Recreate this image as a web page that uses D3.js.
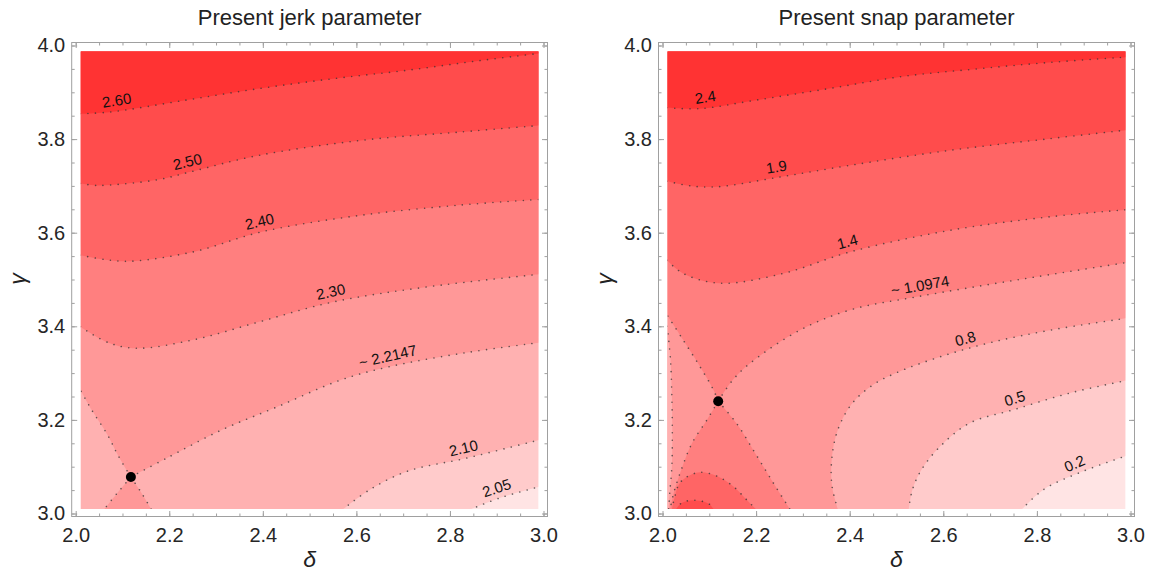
<!DOCTYPE html>
<html>
<head>
<meta charset="utf-8">
<script src="https://cdn.jsdelivr.net/npm/d3@7"></script>
<style>
  body { margin: 0; background: #fff; }
  svg { display: block; }
  text { font-family: "Liberation Sans", Arial, sans-serif; }
</style>
</head>
<body>
<svg id="chart" width="1149" height="580"></svg>
<script>
// axis ticks
const xTicks = [2.0, 2.2, 2.4, 2.6, 2.8, 3.0];
const yTicks = [3.0, 3.2, 3.4, 3.6, 3.8, 4.0];

// sampled region of the contour plot
const deltaFill = [2.011, 2.989];
const gammaFill = [3.0095, 3.987];

// ---- jerk parameter contours, [delta, gamma]
const jerk260 = [[2.01, 3.854], [2.075, 3.858], [2.234, 3.883], [2.392, 3.908], [2.55, 3.929], [2.708, 3.947], [2.866, 3.968], [2.99, 3.983]];
const jerk250 = [[2.01, 3.705], [2.045, 3.701], [2.1, 3.704], [2.18, 3.714], [2.245, 3.73], [2.39, 3.765], [2.608, 3.797], [2.82, 3.815], [2.99, 3.829]];
const jerk240 = [[2.01, 3.552], [2.06, 3.543], [2.116, 3.539], [2.251, 3.559], [2.398, 3.602], [2.608, 3.637], [2.822, 3.659], [2.99, 3.671]];
const jerk230 = [[2.01, 3.399], [2.07, 3.365], [2.13, 3.353], [2.251, 3.371], [2.394, 3.41], [2.55, 3.452], [2.75, 3.484], [2.99, 3.511]];
const jerkSaddle = [2.118, 3.078];
const jerkUL = [jerkSaddle, [2.09, 3.125], [2.068, 3.168], [2.035, 3.22], [2.01, 3.264]];
const jerkUR = [jerkSaddle, [2.194, 3.118], [2.313, 3.179], [2.431, 3.228], [2.566, 3.285], [2.672, 3.314], [2.83, 3.343], [2.99, 3.365]];
const jerkLL = [jerkSaddle, [2.09, 3.045], [2.06, 3.008]];
const jerkLR = [jerkSaddle, [2.14, 3.045], [2.162, 3.008]];
const jerk210 = [[2.57, 3.008], [2.629, 3.051], [2.708, 3.09], [2.834, 3.118], [2.99, 3.157]];
const jerk205 = [[2.842, 3.008], [2.906, 3.033], [2.99, 3.057]];
const jerkLabelText = ["2.60", "2.50", "2.40", "2.30", "~ 2.2147", "2.10", "2.05"];
const jerkLabelAt = [2.091, 2.244, 2.398, 2.55, 2.672, 2.834, 2.907];

// ---- snap parameter contours
const snap24 = [[2.01, 3.867], [2.079, 3.865], [2.198, 3.883], [2.356, 3.908], [2.514, 3.934], [2.672, 3.95], [2.83, 3.964], [2.99, 3.975]];
const snap19 = [[2.01, 3.71], [2.06, 3.7], [2.116, 3.698], [2.251, 3.719], [2.401, 3.744], [2.614, 3.776], [2.828, 3.801], [2.99, 3.819]];
const snap14 = [[2.01, 3.541], [2.044, 3.513], [2.123, 3.492], [2.258, 3.513], [2.401, 3.559], [2.614, 3.605], [2.828, 3.634], [2.99, 3.649]];
const snapSaddle = [2.119, 3.24];
const snapUL = [snapSaddle, [2.109, 3.264], [2.08, 3.314], [2.044, 3.371], [2.01, 3.424]];
const snapUR = [snapSaddle, [2.15, 3.285], [2.187, 3.321], [2.294, 3.392], [2.401, 3.435], [2.543, 3.463], [2.757, 3.499], [2.99, 3.536]];
const snapLL = [snapSaddle, [2.095, 3.2], [2.063, 3.15], [2.04, 3.093], [2.024, 3.044], [2.016, 3.008]];
const snapLR = [snapSaddle, [2.158, 3.193], [2.198, 3.129], [2.237, 3.065], [2.273, 3.008]];
const snapEdge08 = [[2.01, 3.40], [2.017, 3.33], [2.02, 3.25], [2.021, 3.17], [2.02, 3.10], [2.016, 3.05], [2.013, 3.008]];
const snapArc14 = [[2.02, 3.008], [2.026, 3.035], [2.035, 3.062], [2.05, 3.077], [2.08, 3.088], [2.116, 3.08], [2.151, 3.058], [2.18, 3.029], [2.201, 3.008]];
const snapArc19 = [[2.028, 3.008], [2.04, 3.022], [2.059, 3.028], [2.08, 3.027], [2.1, 3.02], [2.11, 3.008]];
const snap08 = [[2.375, 3.008], [2.362, 3.06], [2.362, 3.12], [2.375, 3.18], [2.405, 3.235], [2.45, 3.275], [2.51, 3.305], [2.6, 3.337], [2.7, 3.365], [2.83, 3.392], [2.99, 3.417]];
const snap05 = [[2.526, 3.008], [2.534, 3.051], [2.553, 3.093], [2.593, 3.143], [2.656, 3.193], [2.751, 3.222], [2.869, 3.257], [2.99, 3.284]];
const snap02 = [[2.767, 3.008], [2.814, 3.051], [2.893, 3.088], [2.99, 3.123]];
const snapLabelText = ["2.4", "1.9", "1.4", "~ 1.0974", "0.8", "0.5", "0.2"];
const snapLabelAt = [2.095, 2.247, 2.401, 2.554, 2.653, 2.759, 2.889];

// shading, darkest (highest level) first
const shades = ["#ff3333", "#ff4c4c", "#ff6565", "#ff7f7f", "#ff9898", "#ffb1b1", "#ffcbcb", "#ffe4e4"];

const TR = [3, 4], TL = [2, 4], BL = [2, 3];
const rev = (a) => a.slice().reverse();

const svg = d3.select('#chart');
const defs = svg.append('defs');

const interp = (pts, d) => {
  for (let i = 1; i < pts.length; i++) {
    const a = pts[i - 1], b = pts[i];
    if (d >= a[0] && d <= b[0]) {
      const t = (d - a[0]) / (b[0] - a[0]);
      return [a[0] + t * (b[0] - a[0]), a[1] + t * (b[1] - a[1])];
    }
  }
  return pts[pts.length - 1];
};

const makePanel = (opt) => {
  const x = d3.scaleLinear().domain([2, 3]).range(opt.xRange);
  const y = d3.scaleLinear().domain([3, 4]).range([513.5, 45.5]);

  const g = svg.append('g');
  const clipId = 'clip-' + opt.id;
  defs.append('clipPath').attr('id', clipId)
    .append('rect')
    .attr('x', x(deltaFill[0]))
    .attr('y', y(gammaFill[1]))
    .attr('width', x(deltaFill[1]) - x(deltaFill[0]))
    .attr('height', y(gammaFill[0]) - y(gammaFill[1]));

  const curve = d3.line()
    .x((d) => x(d[0]))
    .y((d) => y(d[1]))
    .curve(d3.curveCatmullRom.alpha(0.5));

  const shape = (parts) => parts.map((p, i) => {
    if (Array.isArray(p[0])) {
      const s = curve(p);
      return i === 0 ? s : 'L' + s.slice(1);
    }
    return (i === 0 ? 'M' : 'L') + x(p[0]) + ',' + y(p[1]);
  }).join('') + 'Z';

  const plot = g.append('g').attr('clip-path', `url(#${clipId})`);

  plot.append('rect')
    .attr('x', x(2)).attr('y', y(4))
    .attr('width', x(3) - x(2)).attr('height', y(3) - y(4))
    .attr('fill', shades[7]);

  opt.bands.forEach(([shade, polys]) => {
    polys.forEach((parts) => {
      plot.append('path').attr('d', shape(parts)).attr('fill', shades[shade]);
    });
  });

  plot.selectAll('path.contour')
    .data(opt.lines)
    .enter()
    .append('path')
    .attr('class', 'contour')
    .attr('d', (d) => curve(d))
    .attr('fill', 'none')
    .attr('stroke', '#333')
    .attr('stroke-opacity', 0.75)
    .attr('stroke-width', 1.6)
    .attr('stroke-linecap', 'round')
    .attr('stroke-dasharray', '0.01 7.6');

  // contour labels, set just above their line and turned with it
  opt.labels.forEach(([text, pts, at]) => {
    const p = interp(pts, at);
    const p0 = interp(pts, at - 0.015), p1 = interp(pts, at + 0.015);
    const ang = Math.atan2(y(p1[1]) - y(p0[1]), x(p1[0]) - x(p0[0]));
    const off = 10.5;
    const cx = x(p[0]) + off * Math.sin(ang);
    const cy = y(p[1]) - off * Math.cos(ang);
    g.append('text')
      .attr('transform', `translate(${cx},${cy}) rotate(${ang * 180 / Math.PI})`)
      .attr('text-anchor', 'middle')
      .attr('dy', '0.35em')
      .attr('font-size', 15)
      .attr('fill', '#111')
      .text(text);
  });

  g.append('circle')
    .attr('cx', x(opt.saddle[0]))
    .attr('cy', y(opt.saddle[1]))
    .attr('r', 5)
    .attr('fill', '#000');

  // frame with inward ticks on all sides
  const fx0 = x(2) - 4, fx1 = x(3) + 4, fy0 = y(4) - 3, fy1 = y(3) + 3;
  const tickColor = '#a0a0a0';

  const sides = [
    [d3.axisBottom, x, `translate(0,${fy1})`, true],
    [d3.axisTop, x, `translate(0,${fy0})`, false],
    [d3.axisLeft, y, `translate(${fx0},0)`, true],
    [d3.axisRight, y, `translate(${fx1},0)`, false],
  ];
  sides.forEach(([maker, scale, tr, labelled]) => {
    const isX = scale === x;
    const minor = g.append('g').attr('transform', tr)
      .call(maker(scale).ticks(20).tickSize(-3).tickFormat(''));
    minor.select('.domain').remove();
    minor.selectAll('line').attr('stroke', tickColor);

    const major = g.append('g').attr('transform', tr)
      .call(maker(scale)
        .tickValues(isX ? xTicks : yTicks)
        .tickSize(-5.5)
        .tickPadding(isX ? 11 : 6.5)
        .tickFormat(labelled ? d3.format('.1f') : ''));
    major.select('.domain').remove();
    major.selectAll('line').attr('stroke', tickColor);
    major.selectAll('text')
      .attr('font-size', 20)
      .attr('fill', '#262626')
      .style('font-family', '"Liberation Sans", Arial, sans-serif');
  });

  g.append('rect')
    .attr('x', fx0).attr('y', fy0)
    .attr('width', fx1 - fx0).attr('height', fy1 - fy0)
    .attr('fill', 'none')
    .attr('stroke', tickColor)
    .attr('stroke-width', 1);

  const mid = (fx0 + fx1) / 2;
  g.append('text')
    .attr('x', mid).attr('y', 25)
    .attr('text-anchor', 'middle')
    .attr('font-size', 22)
    .attr('fill', '#222')
    .text(opt.title);

  g.append('text')
    .attr('x', mid).attr('y', 567)
    .attr('text-anchor', 'middle')
    .attr('font-size', 23)
    .attr('font-style', 'italic')
    .attr('fill', '#222')
    .text('δ');

  g.append('text')
    .attr('transform', `translate(${fx0 - 47},279) rotate(-90)`)
    .attr('text-anchor', 'middle')
    .attr('font-size', 23)
    .attr('font-style', 'italic')
    .attr('fill', '#222')
    .text('γ');
};

makePanel({
  id: 'jerk',
  xRange: [75.7, 543.5],
  title: 'Present jerk parameter',
  saddle: jerkSaddle,
  bands: [
    [6, [[jerk205, TR, TL, BL]]],
    [5, [[jerk210, TR, TL, BL]]],
    [4, [[rev(jerkUL), jerkUR, TR, TL], [rev(jerkLL), jerkLR]]],
    [3, [[jerk230, TR, TL]]],
    [2, [[jerk240, TR, TL]]],
    [1, [[jerk250, TR, TL]]],
    [0, [[jerk260, TR, TL]]],
  ],
  lines: [jerk260, jerk250, jerk240, jerk230, jerkUL, jerkUR, jerkLL, jerkLR, jerk210, jerk205],
  labels: [jerk260, jerk250, jerk240, jerk230, jerkUR, jerk210, jerk205]
    .map((pts, i) => [jerkLabelText[i], pts, jerkLabelAt[i]]),
});

makePanel({
  id: 'snap',
  xRange: [662.5, 1130.5],
  title: 'Present snap parameter',
  saddle: snapSaddle,
  bands: [
    [6, [[snap02, TR, TL, BL]]],
    [5, [[snap05, TR, TL, BL]]],
    [4, [[snap08, TR, TL, BL]]],
    [5, [[snapEdge08, BL, [2, 3.4]]]],
    [3, [[rev(snapUL), snapUR, TR, TL], [rev(snapLL), snapLR]]],
    [2, [[snap14, TR, TL], [snapArc14]]],
    [1, [[snap19, TR, TL], [snapArc19]]],
    [0, [[snap24, TR, TL]]],
  ],
  lines: [snap24, snap19, snap14, snapUL, snapUR, snapLL, snapLR, snapEdge08, snapArc14, snapArc19, snap08, snap05, snap02],
  labels: [snap24, snap19, snap14, snapUR, snap08, snap05, snap02]
    .map((pts, i) => [snapLabelText[i], pts, snapLabelAt[i]]),
});
</script>
</body>
</html>
